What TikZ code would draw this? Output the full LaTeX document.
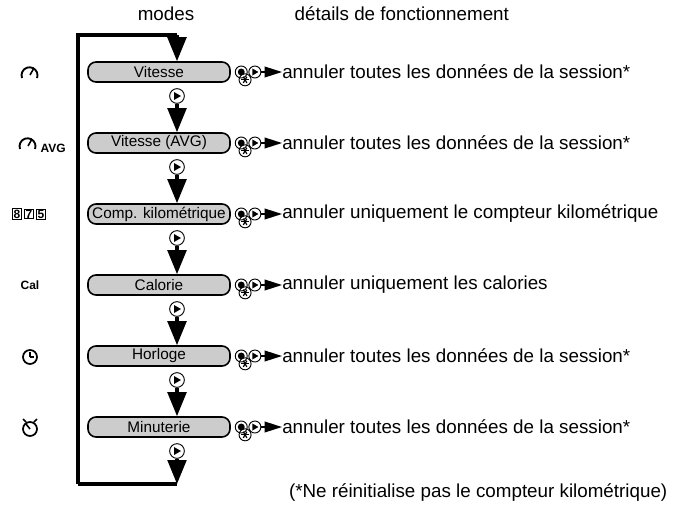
\documentclass[tikz,border=0pt]{standalone}
\usepackage{fontspec}
\setmainfont{Liberation Sans}
\usetikzlibrary{calc, positioning, arrows.meta}

\begin{document}
\begin{tikzpicture}[x=0.75pt, y=-0.75pt,
    mode/.style={draw, line width=1.2pt, fill=gray!40, rounded corners=6pt,
        minimum width=142*0.75pt, minimum height=20*0.75pt, inner sep=0pt, font=\fontsize{11.5}{12}\selectfont},
    btn/.style={circle, draw, line width=0.7pt, minimum size=9pt, inner sep=0pt},
    flow/.style={line width=2.4pt, -{Triangle[width=14pt, length=18pt]}},
    detail/.style={anchor=west, font=\fontsize{14.1}{16}\selectfont, inner sep=0pt},
    icon/.style={font=\bfseries\fontsize{9}{10}\selectfont}]

\useasboundingbox (0,0) rectangle (682,507);

% headings
\node (hmodes) at (166,14) {\fontsize{14.1}{16}\selectfont modes};
\node[anchor=west] (hdetail) at (290,14) {\fontsize{14.1}{16}\selectfont détails de fonctionnement};

% modes
\foreach \i/\name/\txt/\act in {1/v/Vitesse/annuler toutes les données de la session*,
    2/va/Vitesse (AVG)/annuler toutes les données de la session*,
    3/ck/Comp. kilométrique/annuler uniquement le compteur kilométrique,
    4/ca/Calorie/annuler uniquement les calories,
    5/ho/Horloge/annuler toutes les données de la session*,
    6/mi/Minuterie/annuler toutes les données de la session*}
{
    \node[mode] (\name) at (159,1+71*\i) {\txt};
    \node[btn, right=3pt of \name] (\name b1) {};
    \fill (\name b1) circle (2.6pt);
    \node[btn, right=0.5pt of \name b1] (\name b2) {};
    \fill ($(\name b2)+(-2.5,-3.5)$) -- ++(0,7) -- ++(6,-3.5) -- cycle;
    \node[btn, below right=-1pt and -4pt of \name b1] (\name b3) {};
    \foreach \a in {0,60,120}
        \draw[line width=0.9pt] ($(\name b3)+(\a:3.6)$) -- ($(\name b3)+(\a+180:3.6)$);
    \node[detail] (\name t) at (282,1+71*\i) {\act};
    \draw[line width=1.2pt, -{Triangle[width=8pt, length=13pt]}] (\name b2) -- (\name t);
    \node[btn, minimum size=11pt] (\name n) at (177,25+71*\i) {};
    \fill ($(\name n)+(-3,-4)$) -- ++(0,8) -- ++(7,-4) -- cycle;
}

% connectors
\coordinate (top) at (177,35);
\coordinate (tl) at (78,35);
\coordinate (bl) at (78,484);
\coordinate (bot) at (177,484);
\draw[line width=2.4pt] (bl) -- (tl) -- (top);
\draw[flow] (top) -- (v.north -| top);
\draw[flow] (vn) -- (va.north -| vn);
\draw[flow] (van) -- (ck.north -| van);
\draw[flow] (ckn) -- (ca.north -| ckn);
\draw[flow] (can) -- (ho.north -| can);
\draw[flow] (hon) -- (mi.north -| hon);
\draw[line width=2.4pt] (bl) -- (bot);
\draw[flow] (min) -- (bot);

% icons
\draw[line width=1.4pt] (22,78) arc (160:380:8);
\draw[line width=1.2pt] (30,75) -- (34,68);
\draw[line width=1.4pt] (20,149) arc (160:380:8);
\draw[line width=1.2pt] (28,146) -- (32,139);
\node[icon, anchor=west] (avg) at (36,148) {AVG};
\foreach \k/\d in {0/8,1/7,2/5}
    \node[draw, line width=0.7pt, inner sep=0.6pt, icon] at (17+12*\k,214) {\d};
\node[icon] (cal) at (30,285) {Cal};
\draw[line width=1.3pt] (30,357) circle (7);
\draw[line width=1.2pt] (30,357) -- (30,352) (30,357) -- (34,357);
\draw[line width=1.3pt] (30,429) circle (7);
\draw[line width=1.2pt] (30,429) -- (26,424);
\draw[line width=1.2pt] (23,419) -- (26,422) (37,419) -- (34,422);

\node[anchor=east] (note) at (672,493) {\fontsize{14.1}{16}\selectfont (*Ne réinitialise pas le compteur kilométrique)};
\end{tikzpicture}
\end{document}
